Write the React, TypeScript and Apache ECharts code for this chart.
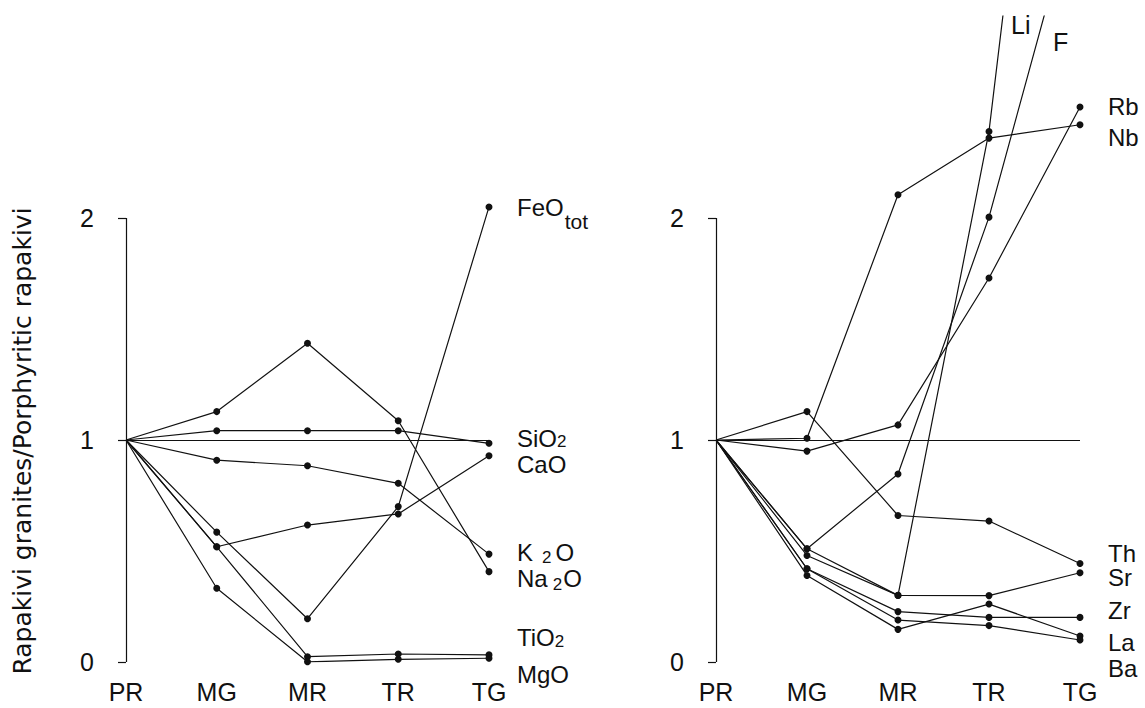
import React, { useEffect, useRef } from 'react';
import * as echarts from 'echarts';

const categories = ['PR', 'MG', 'MR', 'TR', 'TG'];
const yTicks = [0, 1, 2];

// Left panel: major elements (ratio to porphyritic rapakivi)
const feoTot = [1, 0.585, 0.195, 0.7, 2.05];
const sio2 = [1, 1.042, 1.042, 1.042, 0.985];
const cao = [1, 0.519, 0.617, 0.667, 0.929];
const k2o = [1, 0.909, 0.884, 0.805, 0.486];
const na2o = [1, 1.128, 1.436, 1.087, 0.407];
const tio2 = [1, 0.519, 0.024, 0.036, 0.032];
const mgo = [1, 0.332, 0.001, 0.012, 0.017];

// Right panel: trace elements
const li = [1, 0.51, 0.3, 2.39, 5.8];
const fl = [1, 0.51, 0.847, 2.004, 3.5];
const rb = [1, 0.95, 1.068, 1.73, 2.5];
const nb = [1, 1.008, 2.105, 2.36, 2.42];
const th = [1, 1.128, 0.66, 0.635, 0.444];
const sr = [1, 0.48, 0.3, 0.299, 0.402];
const zr = [1, 0.42, 0.227, 0.201, 0.201];
const la = [1, 0.39, 0.147, 0.261, 0.117];
const ba = [1, 0.42, 0.189, 0.164, 0.099];

const FONT = '"Liberation Sans", Arial, Helvetica, sans-serif';
const TITLE_FONT = '"DejaVu Sans", "Liberation Sans", sans-serif';
const INK = '#111111';

const rich = {
  m: { fontSize: 24, fontFamily: FONT, color: INK, lineHeight: 22, verticalAlign: 'top' },
  s: { fontSize: 17, fontFamily: FONT, color: INK, lineHeight: 14, verticalAlign: 'top', padding: [7, 0, 0, 0] },
  sk: { fontSize: 17, fontFamily: FONT, color: INK, lineHeight: 14, verticalAlign: 'top', padding: [9, 4, 0, 9] },
  sn: { fontSize: 17, fontFamily: FONT, color: INK, lineHeight: 14, verticalAlign: 'top', padding: [9, 1, 0, 5] },
  t: { fontSize: 21, fontFamily: FONT, color: INK, lineHeight: 14, verticalAlign: 'top', padding: [15, 0, 0, 1] },
};

function makeSeries(
  name: string,
  values: number[],
  grid: number,
  label: string | null,
  dy: number,
  extra: any = {}
) {
  return {
    type: 'line',
    name,
    xAxisIndex: grid,
    yAxisIndex: grid,
    data: values.map((v, i) => (i === 0 ? { value: v, symbol: 'none' } : v)),
    symbol: 'circle',
    symbolSize: 7,
    showSymbol: true,
    clip: true,
    silent: true,
    itemStyle: { color: INK },
    lineStyle: { color: INK, width: 1.2 },
    endLabel: label
      ? {
          show: true,
          formatter: label,
          distance: 28,
          offset: [0, dy],
          rich,
        }
      : { show: false },
    ...extra,
  };
}

function refLines() {
  return {
    markLine: {
      silent: true,
      symbol: ['none', 'none'],
      label: { show: false },
      lineStyle: { color: INK, width: 1.2, type: 'solid' },
      data: [
        { yAxis: 1 },
        [{ coord: ['PR', 0] }, { coord: ['PR', 2] }],
      ],
    },
  };
}

const YMAX = 2.91;

function xAxis(grid: number) {
  return {
    type: 'category',
    gridIndex: grid,
    data: categories,
    boundaryGap: false,
    axisLine: { show: false },
    axisTick: { show: false },
    axisLabel: { fontSize: 25, color: INK, fontFamily: FONT, margin: 17 },
  };
}

function yAxis(grid: number, name: string) {
  return {
    type: 'value',
    gridIndex: grid,
    min: 0,
    max: YMAX,
    axisLine: { show: false },
    splitLine: { show: false },
    axisTick: { show: true, customValues: yTicks, length: 8, lineStyle: { color: INK, width: 1.2 } },
    axisLabel: { customValues: yTicks, fontSize: 25, color: INK, fontFamily: FONT, margin: 32 },
    name,
    nameLocation: 'middle',
    nameRotate: 90,
    nameGap: 91,
    nameTextStyle: { fontSize: 25, color: INK, fontFamily: TITLE_FONT, padding: [0, 204, 0, 0] },
  };
}

export default function App() {
  const ref = useRef<HTMLDivElement>(null);
  useEffect(() => {
    document.body.style.margin = '0';
    const chart = echarts.init(ref.current!, undefined, { renderer: 'svg' });
    chart.setOption({
      animation: false,
      backgroundColor: '#ffffff',
      grid: [
        { left: 126, top: 16, width: 363, height: 646 },
        { left: 716, top: 16, width: 364, height: 646 },
      ],
      xAxis: [xAxis(0), xAxis(1)],
      yAxis: [yAxis(0, 'Rapakivi granites/Porphyritic rapakivi'), yAxis(1, '')],
      series: [
        makeSeries('SiO2', sio2, 0, '{m|SiO}{s|2}', -6, refLines()),
        makeSeries('FeOtot', feoTot, 0, '{m|FeO}{t|tot}', 0),
        makeSeries('CaO', cao, 0, '{m|CaO}', 8),
        makeSeries('K2O', k2o, 0, '{m|K}{sk|2}{m|O}', -3),
        makeSeries('Na2O', na2o, 0, '{m|Na}{sn|2}{m|O}', 6),
        makeSeries('TiO2', tio2, 0, '{m|TiO}{s|2}', -18),
        makeSeries('MgO', mgo, 0, '{m|MgO}', 15),
        makeSeries('Th', th, 1, '{m|Th}', -11, refLines()),
        makeSeries('Li', li, 1, null, 0),
        makeSeries('F', fl, 1, null, 0),
        makeSeries('Rb', rb, 1, '{m|Rb}', -2),
        makeSeries('Nb', nb, 1, '{m|Nb}', 12),
        makeSeries('Sr', sr, 1, '{m|Sr}', 4),
        makeSeries('Zr', zr, 1, '{m|Zr}', -8),
        makeSeries('La', la, 1, '{m|La}', 5),
        makeSeries('Ba', ba, 1, '{m|Ba}', 27),
      ],
      graphic: [
        { type: 'text', left: 1011, top: 12, style: { text: 'Li', font: `25px ${FONT}`, fill: INK } },
        { type: 'text', left: 1053, top: 29, style: { text: 'F', font: `25px ${FONT}`, fill: INK } },
      ],
    });
    return () => chart.dispose();
  }, []);
  return <div ref={ref} style={{ width: 1145, height: 708 }} />;
}
